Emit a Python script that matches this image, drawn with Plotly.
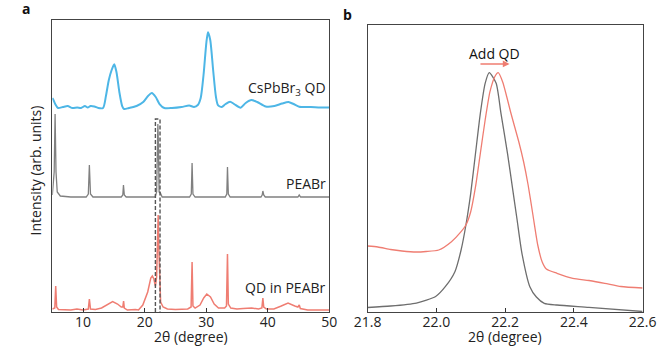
import plotly.graph_objects as go

# ---------------- Panel a data (2θ in degree, intensity arb. units, offset-stacked) ----------------
qd_x = [5.0, 5.11, 5.47, 5.93, 6.71, 7.49, 8.27, 9.04, 9.67, 10.29, 10.75, 11.22, 11.84, 12.47, 13.24,
        13.71, 14.18, 14.64, 15.06, 15.42, 15.89, 16.35, 16.66, 17.44, 18.69, 19.77, 20.55, 21.17,
        21.80, 22.42, 23.20, 24.44, 26.00, 27.24, 28.02, 28.64, 29.11, 29.57, 30.04, 30.30, 30.66,
        31.13, 31.59, 31.91, 32.53, 33.15, 33.88, 34.55, 35.59, 36.42, 37.35, 38.28, 39.68, 41.08,
        42.33, 43.37, 44.19, 45.12, 46.99, 48.55, 50.0]
qd_y = [214, 213, 208, 204, 205, 206, 204, 204.5, 204, 206, 204.5, 206, 205.5, 204, 204,
        216, 232, 242, 247.7, 240, 220, 206, 203, 204, 206, 210, 216, 219,
        215, 208, 204, 204, 205, 206.5, 205, 207, 214, 237, 270, 279.7, 272,
        242, 215, 207, 205, 208, 210.3, 208, 204.3, 209, 212, 210, 205.5, 206,
        208.5, 210, 208, 205.3, 205, 204.5, 204.5]

peabr_x = [5.0, 5.3, 5.45, 5.6, 5.8, 6.3, 8.0, 10.5, 10.85, 11.02, 11.2, 11.6, 16.2, 16.45, 16.56,
           16.7, 17.0, 21.7, 21.95, 22.08, 22.15, 22.22, 22.35, 22.55, 22.65, 22.85, 27.3, 27.58,
           27.71, 27.85, 28.2, 33.1, 33.35, 33.46, 33.6, 33.9, 38.9, 39.1, 39.21, 39.35, 39.6,
           44.9, 45.12, 45.35, 50.0]
peabr_y = [117, 140, 198, 140, 120, 116, 115, 115, 118, 147, 118, 115, 115, 117, 127,
           117, 115, 115, 120, 172, 188, 172, 120, 119, 118, 115, 115, 118,
           149, 118, 115, 115, 118, 145, 118, 115, 115, 117, 121, 117, 115,
           115, 117, 115, 115]

mix_x = [5.0, 5.4, 5.55, 5.7, 6.0, 8.0, 9.0, 10.0, 10.85, 11.02, 11.2, 12.0, 13.0, 14.0, 14.8,
         15.6, 16.2, 16.45, 16.58, 16.7, 17.2, 18.5, 19.0, 19.7, 20.5, 21.0, 21.25, 21.5, 21.75,
         21.95, 22.1, 22.2, 22.3, 22.45, 22.6, 23.0, 23.7, 25.0, 27.0, 27.55, 27.71, 27.85, 28.2,
         29.0, 29.6, 30.1, 30.7, 31.3, 32.0, 33.0, 33.3, 33.46, 33.6, 34.0, 35.0, 36.0, 37.4,
         38.5, 39.05, 39.21, 39.35, 39.8, 41.0, 42.2, 43.3, 44.4, 44.9, 45.12, 45.3, 46.5, 50.0]
mix_y = [3, 4, 26, 5, 2.5, 2, 3, 2, 3, 13, 3, 2.5, 4, 8, 10.5,
         8, 5, 5, 11, 4, 2, 2.5, 2, 7, 20, 34, 36, 33, 26,
         35, 80, 97, 65, 20, 10, 5, 3, 2.5, 3, 5, 50, 6, 4,
         7, 14, 18, 15, 8, 4, 4, 6, 58, 8, 4, 3, 3.5, 4,
         3, 4, 14, 5, 3, 3, 6, 9, 6, 5, 7, 3.5, 2, 2]

box_x = [21.75, 21.75, 22.5, 22.5]
box_y = [0, 193, 193, 0]

labels_a = ["CsPbBr<sub>3</sub> QD", "PEABr", "QD in PEABr"]
labels_a_y = [224, 129, 25]
ticks_a = [10, 20, 30, 40, 50]

# ---------------- Panel b data ----------------
pb_x = [21.8, 21.867, 21.942, 21.998, 22.026, 22.054, 22.072, 22.086, 22.100, 22.114, 22.128,
        22.142, 22.154, 22.174, 22.188, 22.207, 22.221, 22.235, 22.249, 22.272, 22.291, 22.314,
        22.351, 22.444, 22.6]
pb_y = [4.5, 6, 9, 15.5, 25.3, 40.3, 62, 87, 118.7, 158.7, 198.7,
        228.7, 239.3, 228.7, 198.7, 158.7, 125.3, 92, 58.7, 25.3, 15, 8.7,
        7, 4.7, 0.5]

mb_x = [21.8, 21.83, 21.867, 21.9, 21.942, 21.97, 22.007, 22.044, 22.072, 22.086, 22.100, 22.114,
        22.128, 22.142, 22.156, 22.170, 22.180, 22.193, 22.205, 22.216, 22.228, 22.240, 22.254,
        22.267, 22.281, 22.295, 22.308, 22.320, 22.351, 22.397, 22.444, 22.490, 22.537, 22.6]
mb_y = [66, 65, 62.5, 61, 60, 60.5, 62, 70.3, 80.3, 87, 100.3, 125.3,
        158.7, 192, 220.3, 235.3, 239.3, 230, 215, 200, 185, 170, 150,
        127, 97, 67, 50, 43, 38.7, 33.7, 31.5, 28.7, 25.5, 24]

ticks_b = [21.8, 22.0, 22.2, 22.4, 22.6]
arrow_x = [22.124, 22.213]
arrow_y = 248

BLUE = "#4DB6E6"
GRAY = "#808080"
RED = "#EF7D72"
FONT = "Open Sans"

fig = go.Figure()
fig.add_trace(go.Scatter(x=qd_x, y=qd_y, mode="lines", line=dict(color=BLUE, width=2, shape="spline", smoothing=0.7),
                         xaxis="x", yaxis="y"))
fig.add_trace(go.Scatter(x=peabr_x, y=peabr_y, mode="lines", line=dict(color=GRAY, width=1.3), xaxis="x", yaxis="y"))
fig.add_trace(go.Scatter(x=mix_x, y=mix_y, mode="lines", line=dict(color=RED, width=1.5), xaxis="x", yaxis="y"))
fig.add_trace(go.Scatter(x=box_x, y=box_y, mode="lines", line=dict(color="#555555", width=1.4, dash="4px,2px"),
                         xaxis="x", yaxis="y"))
fig.add_trace(go.Scatter(x=pb_x, y=pb_y, mode="lines", line=dict(color="#6E6E6E", width=1.3, shape="spline", smoothing=0.6),
                         xaxis="x2", yaxis="y2"))
fig.add_trace(go.Scatter(x=mb_x, y=mb_y, mode="lines", line=dict(color=RED, width=1.3, shape="spline", smoothing=0.6),
                         xaxis="x2", yaxis="y2"))

ax_common = dict(showline=True, mirror=True, linecolor="#444444", linewidth=1.3, showgrid=False, zeroline=False)

fig.update_layout(
    width=671, height=348, margin=dict(l=0, r=0, t=0, b=0),
    paper_bgcolor="white", plot_bgcolor="white", showlegend=False,
    font=dict(family=FONT, color="#222222"),
    xaxis=dict(domain=[0.0596, 0.4903], range=[5, 50], tickvals=ticks_a, ticks="inside", ticklen=4,
               ticklabelstandoff=-3,
               tickcolor="#333333", tickfont=dict(size=14, family=FONT, color="#222222"), anchor="y", **ax_common),
    yaxis=dict(domain=[0.1034, 0.9425], range=[0, 292], showticklabels=False, ticks="", anchor="x", **ax_common),
    xaxis2=dict(domain=[0.5499, 0.9776], range=[21.8, 22.6], tickvals=ticks_b,
                ticktext=[f"{t:.1f}" for t in ticks_b], ticks="inside", ticklen=4, tickcolor="#333333",
                ticklabelstandoff=-3,
                tickfont=dict(size=14, family=FONT, color="#222222"), anchor="y2", **ax_common),
    yaxis2=dict(domain=[0.1034, 0.9282], range=[0, 287], showticklabels=False, ticks="", anchor="x2", **ax_common),
)

ann = []
for t, yv in zip(labels_a, labels_a_y):
    ann.append(dict(x=49.8, y=yv, xref="x", yref="y", text=t, showarrow=False, xanchor="right",
                    yanchor="middle", font=dict(size=14, family=FONT, color="#222222")))
ann.append(dict(x=0.2757, y=0.0, xref="paper", yref="paper", text="2θ (degree)", showarrow=False,
                xanchor="center", yanchor="bottom", font=dict(size=14, family=FONT, color="#222222")))
ann.append(dict(x=0.7637, y=0.0, xref="paper", yref="paper", text="2θ (degree)", showarrow=False,
                xanchor="center", yanchor="bottom", font=dict(size=14, family=FONT, color="#222222")))
ann.append(dict(x=0.033, y=0.511, xref="paper", yref="paper", text="Intensity (arb. units)", showarrow=False,
                textangle=-90, xanchor="center", yanchor="middle", font=dict(size=14, family=FONT, color="#222222")))
ann.append(dict(x=0.018, y=0.977, xref="paper", yref="paper", text="<b>a</b>", showarrow=False,
                xanchor="center", yanchor="middle", font=dict(size=14, family=FONT, color="#111111")))
ann.append(dict(x=0.519, y=0.957, xref="paper", yref="paper", text="<b>b</b>", showarrow=False,
                xanchor="center", yanchor="middle", font=dict(size=14, family=FONT, color="#111111")))
ann.append(dict(x=(arrow_x[0] + arrow_x[1]) / 2, y=arrow_y + 10, xref="x2", yref="y2", text="Add QD",
                showarrow=False, xanchor="center", yanchor="middle", font=dict(size=14, family=FONT, color="#111111")))
ann.append(dict(x=arrow_x[1], y=arrow_y, ax=arrow_x[0], ay=arrow_y, xref="x2", yref="y2", axref="x2", ayref="y2",
                text="", showarrow=True, arrowhead=2, arrowsize=0.9, arrowwidth=1.5, arrowcolor=RED))
fig.update_layout(annotations=ann)

fig.write_html("out.html")
